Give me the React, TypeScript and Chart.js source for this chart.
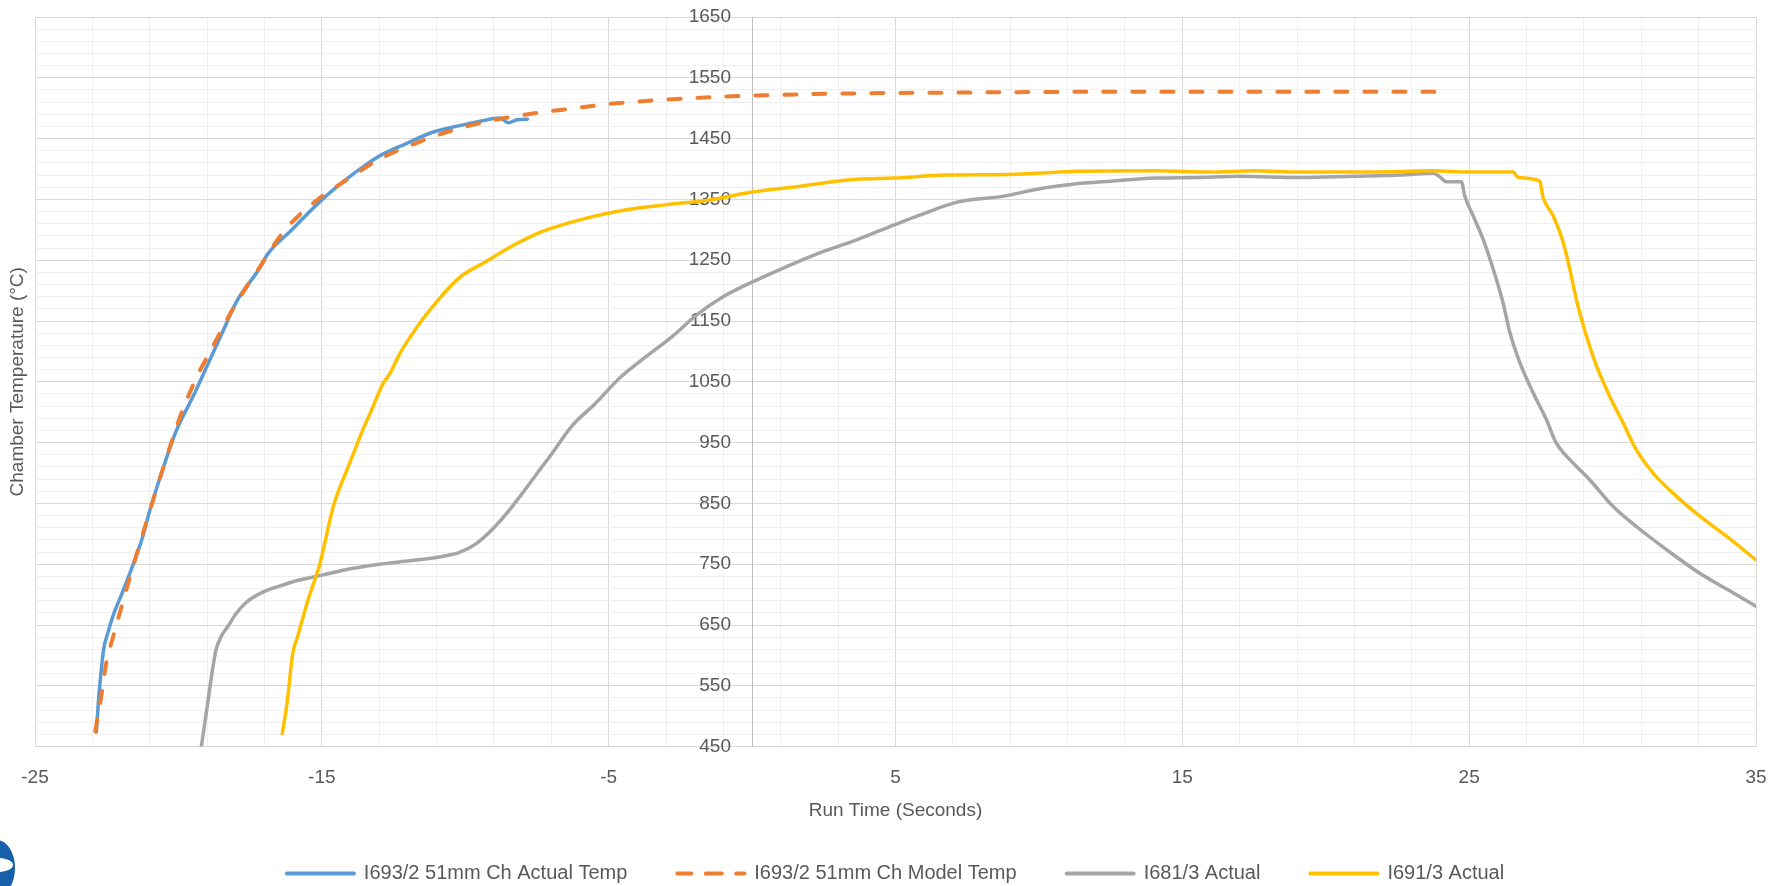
import React, { useEffect, useRef } from "react";
import { Chart, registerables } from "chart.js";

Chart.register(...registerables);

// ---- Data ----
const seriesNames = [
  "I693/2 51mm Ch Actual Temp",
  "I693/2 51mm Ch Model Temp",
  "I681/3 Actual",
  "I691/3 Actual",
];

const xTitle = "Run Time (Seconds)";
const yTitle = "Chamber Temperature (°C)";

const xTickLabels = [-25, -15, -5, 5, 15, 25, 35];
const yTickLabels = [450, 550, 650, 750, 850, 950, 1050, 1150, 1250, 1350, 1450, 1550, 1650];

// I693/2 51mm Ch Actual Temp
const actualTime = [
  -22.86, -22.78, -22.72, -22.61, -22.46, -22.28, -21.93, -21.59, -21.24, -21.0,
  -20.54, -20.08, -19.5, -19.03, -18.46, -17.96, -17.18, -16.89, -16.09, -15.03,
  -14.23, -13.43, -12.89, -12.09, -11.16, -10.23, -9.43, -8.8, -8.49, -8.2, -7.83,
];
const actualTemp = [
  474, 530, 561, 609, 637, 665, 706, 748, 796, 838,
  907, 969, 1025, 1073, 1132, 1183, 1236, 1260, 1298, 1348,
  1380, 1408, 1424, 1441, 1460, 1471, 1479, 1484, 1476, 1481, 1482,
];

// I693/2 51mm Ch Model Temp
const modelTime = [
  -22.9, -22.69, -22.51, -22.28, -21.99, -21.7, -21.35, -20.95, -20.54, -19.96,
  -19.38, -18.8, -18.22, -17.64, -17.06, -16.48, -15.9, -15.0, -14.17, -13.0,
  -11.85, -10.69, -9.53, -8.37, -7.21, -6.0, -5.0, -3.0, -1.0, 1.0,
  3.0, 5.0, 8.0, 12.0, 16.0, 20.0, 24.3,
];
const modelTemp = [
  475, 533, 589, 630, 679, 727, 783, 845, 907, 990,
  1056, 1108, 1160, 1205, 1246, 1288, 1319, 1355, 1381, 1416,
  1440, 1460, 1475, 1486, 1494, 1501, 1507, 1514, 1519, 1522,
  1524, 1525, 1526, 1527, 1527, 1527, 1527,
];

// I681/3 Actual
const i681Time = [
  -19.2, -19.03, -18.86, -18.69, -18.5, -18.27, -18.0, -17.64, -17.06, -16.48,
  -15.79, -15.0, -14.17, -13.0, -11.85, -10.92, -10.22, -9.64, -9.06, -8.6,
  -8.02, -7.44, -7.04, -6.27, -5.49, -4.6, -3.71, -2.82, -1.93, -1.04,
  0.0, 1.18, 2.29, 3.62, 4.96, 5.84, 7.18, 8.73, 10.07, 11.18,
  12.51, 14.07, 15.5, 17.0, 19.1, 20.96, 22.6, 23.75, 23.98, 24.2,
  24.73, 24.85, 25.14, 25.49, 25.84, 26.18, 26.42, 26.77, 27.23, 27.69,
  28.04, 28.51, 29.2, 30.02, 30.83, 31.88, 33.04, 34.2, 35.0,
];
const i681Temp = [
  450, 505, 561, 609, 632, 648, 668, 687, 704, 714,
  724, 732, 741, 750, 756, 762, 769, 783, 807, 831,
  866, 903, 928, 978, 1013, 1057, 1091, 1123, 1160, 1189,
  1214, 1239, 1261, 1283, 1308, 1324, 1346, 1355, 1368, 1375,
  1380, 1385, 1386, 1388, 1386, 1388, 1390, 1393, 1387, 1379,
  1379, 1355, 1323, 1284, 1235, 1180, 1131, 1081, 1032, 988,
  949, 922, 889, 845, 812, 774, 735, 703, 681,
];

// I691/3 Actual
const i691Time = [
  -16.38, -16.2, -16.02, -15.85, -15.49, -15.06, -14.6, -14.17, -13.93, -13.59,
  -13.27, -12.89, -12.6, -12.31, -11.93, -11.5, -11.04, -10.6, -10.16, -9.27,
  -8.38, -7.44, -7.04, -5.71, -4.38, -3.04, -1.49, 0.0, 1.4, 2.5,
  3.62, 4.96, 6.73, 8.96, 11.18, 14.07, 16.0, 17.5, 19.1, 21.42,
  23.75, 25.0, 26.53, 26.71, 27.46, 27.58, 27.93, 28.28, 28.51, 28.74,
  29.09, 29.44, 29.9, 30.37, 30.83, 31.41, 32.22, 33.04, 33.97, 35.0,
];
const i691Temp = [
  471, 526, 602, 630, 690, 752, 845, 900, 928, 969,
  1003, 1045, 1066, 1094, 1123, 1152, 1179, 1203, 1223, 1248,
  1273, 1295, 1302, 1320, 1333, 1341, 1349, 1362, 1370, 1377,
  1383, 1385, 1390, 1391, 1396, 1397, 1395, 1397, 1395, 1395,
  1397, 1395, 1395, 1386, 1380, 1353, 1323, 1279, 1235, 1185,
  1125, 1076, 1026, 982, 938, 900, 862, 829, 796, 757,
];

const seriesColors = ["#5B9BD5", "#ED7D31", "#A5A5A5", "#FFC000"];

// ---- Styling ----
const FONT_FAMILY = "'Liberation Sans', Arial, sans-serif";
const TEXT_COLOR = "#595959";
const MAJOR_GRID = "#d9d9d9";
const MINOR_GRID = "#efefef";
const Y_LABEL_GAP = "    ";

function toPoints(xs: number[], ys: number[]) {
  return xs.map((x, i) => ({ x, y: ys[i] }));
}

const yTitlePlugin = {
  id: "yTitleLeft",
  afterDraw(chart: any) {
    const { ctx, chartArea } = chart;
    ctx.save();
    ctx.translate(18, (chartArea.top + chartArea.bottom) / 2);
    ctx.rotate(-Math.PI / 2);
    ctx.font = `19px ${FONT_FAMILY}`;
    ctx.fillStyle = TEXT_COLOR;
    ctx.textAlign = "center";
    ctx.textBaseline = "middle";
    ctx.fillText(yTitle, 0, 0);
    ctx.restore();
  },
};

const logoPlugin = {
  id: "cornerLogo",
  afterDraw(chart: any) {
    const { ctx, height } = chart;
    ctx.save();
    ctx.fillStyle = "#1660aa";
    ctx.beginPath();
    ctx.ellipse(-3, height - 18, 18, 28, 0, 0, Math.PI * 2);
    ctx.fill();
    ctx.fillStyle = "#ffffff";
    ctx.beginPath();
    ctx.ellipse(-2, height - 21, 15, 7, 0, 0, Math.PI * 2);
    ctx.fill();
    ctx.restore();
  },
};

export default function App() {
  const canvasRef = useRef<HTMLCanvasElement>(null);

  useEffect(() => {
    const canvas = canvasRef.current;
    if (!canvas) return;

    const seriesTimes = [actualTime, modelTime, i681Time, i691Time];
    const seriesTemps = [actualTemp, modelTemp, i681Temp, i691Temp];
    const drawOrder = [4, 3, 2, 1];

    const datasets = seriesNames.map((name, i) => ({
      label: name,
      data: toPoints(seriesTimes[i], seriesTemps[i]),
      borderColor: seriesColors[i],
      backgroundColor: seriesColors[i],
      borderWidth: i === 1 ? 4 : 3.5,
      borderDash: i === 1 ? [12, 17] : [],
      borderCapStyle: "round" as const,
      borderJoinStyle: "round" as const,
      pointRadius: 0,
      pointHoverRadius: 0,
      fill: false,
      cubicInterpolationMode: "monotone" as const,
      order: drawOrder[i],
    }));

    const font = { family: FONT_FAMILY, size: 19 };
    const legendFont = { family: FONT_FAMILY, size: 20 };

    const chart = new Chart(canvas, {
      type: "line",
      data: { datasets },
      plugins: [yTitlePlugin, logoPlugin],
      options: {
        animation: false,
        responsive: false,
        maintainAspectRatio: false,
        devicePixelRatio: 1,
        layout: { padding: { left: 35, right: 15, top: 17, bottom: -7.5 } },
        plugins: {
          tooltip: { enabled: false },
          legend: {
            position: "bottom",
            labels: {
              boxWidth: 67,
              boxHeight: 0,
              padding: 50,
              color: TEXT_COLOR,
              font: legendFont,
              sort: (a: any, b: any) => a.datasetIndex - b.datasetIndex,
              generateLabels(ch: any) {
                const items = Chart.defaults.plugins.legend.labels.generateLabels(ch);
                return items.map((it: any) => ({
                  ...it,
                  lineWidth: 4,
                  lineCap: "round",
                  lineDash: it.datasetIndex === 1 ? [14, 16.5] : [],
                }));
              },
            },
          },
        },
        scales: {
          x: {
            type: "linear",
            min: -25,
            max: 35,
            border: { display: true, color: MAJOR_GRID },
            grid: {
              drawTicks: false,
              color: (c: any) =>
                c.tick && xTickLabels.includes(c.tick.value) ? MAJOR_GRID : MINOR_GRID,
            },
            ticks: {
              stepSize: 2,
              autoSkip: false,
              maxRotation: 0,
              padding: 20,
              color: TEXT_COLOR,
              font,
              callback: (v: any) => (xTickLabels.includes(Number(v)) ? String(v) : ""),
            },
            title: {
              display: true,
              text: xTitle,
              color: TEXT_COLOR,
              font: { family: FONT_FAMILY, size: 19, lineHeight: 1 },
              padding: { top: 12, bottom: -7 },
            },
            afterFit: (scale: any) => {
              scale.height = 66.9;
              scale.paddingLeft = 0;
              scale.paddingRight = 0;
            },
          },
          y: {
            type: "linear",
            min: 450,
            max: 1650,
            position: { x: 0 } as any,
            border: { display: true, color: "#bfbfbf" },
            grid: {
              drawTicks: false,
              color: (c: any) =>
                c.tick && yTickLabels.includes(c.tick.value) ? MAJOR_GRID : MINOR_GRID,
            },
            ticks: {
              stepSize: 20,
              autoSkip: false,
              padding: 0,
              color: TEXT_COLOR,
              font,
              callback: (v: any) =>
                yTickLabels.includes(Number(v)) ? String(v) + Y_LABEL_GAP : "",
            },
            afterFit: (scale: any) => {
              scale.paddingTop = 0;
              scale.paddingBottom = 0;
            },
          },
        },
      },
    });

    return () => chart.destroy();
  }, []);

  return (
    <div
      style={{
        position: "fixed",
        left: 0,
        top: 0,
        width: 1771,
        height: 886,
        background: "#ffffff",
      }}
    >
      <canvas ref={canvasRef} width={1771} height={886} style={{ display: "block" }} />
    </div>
  );
}
